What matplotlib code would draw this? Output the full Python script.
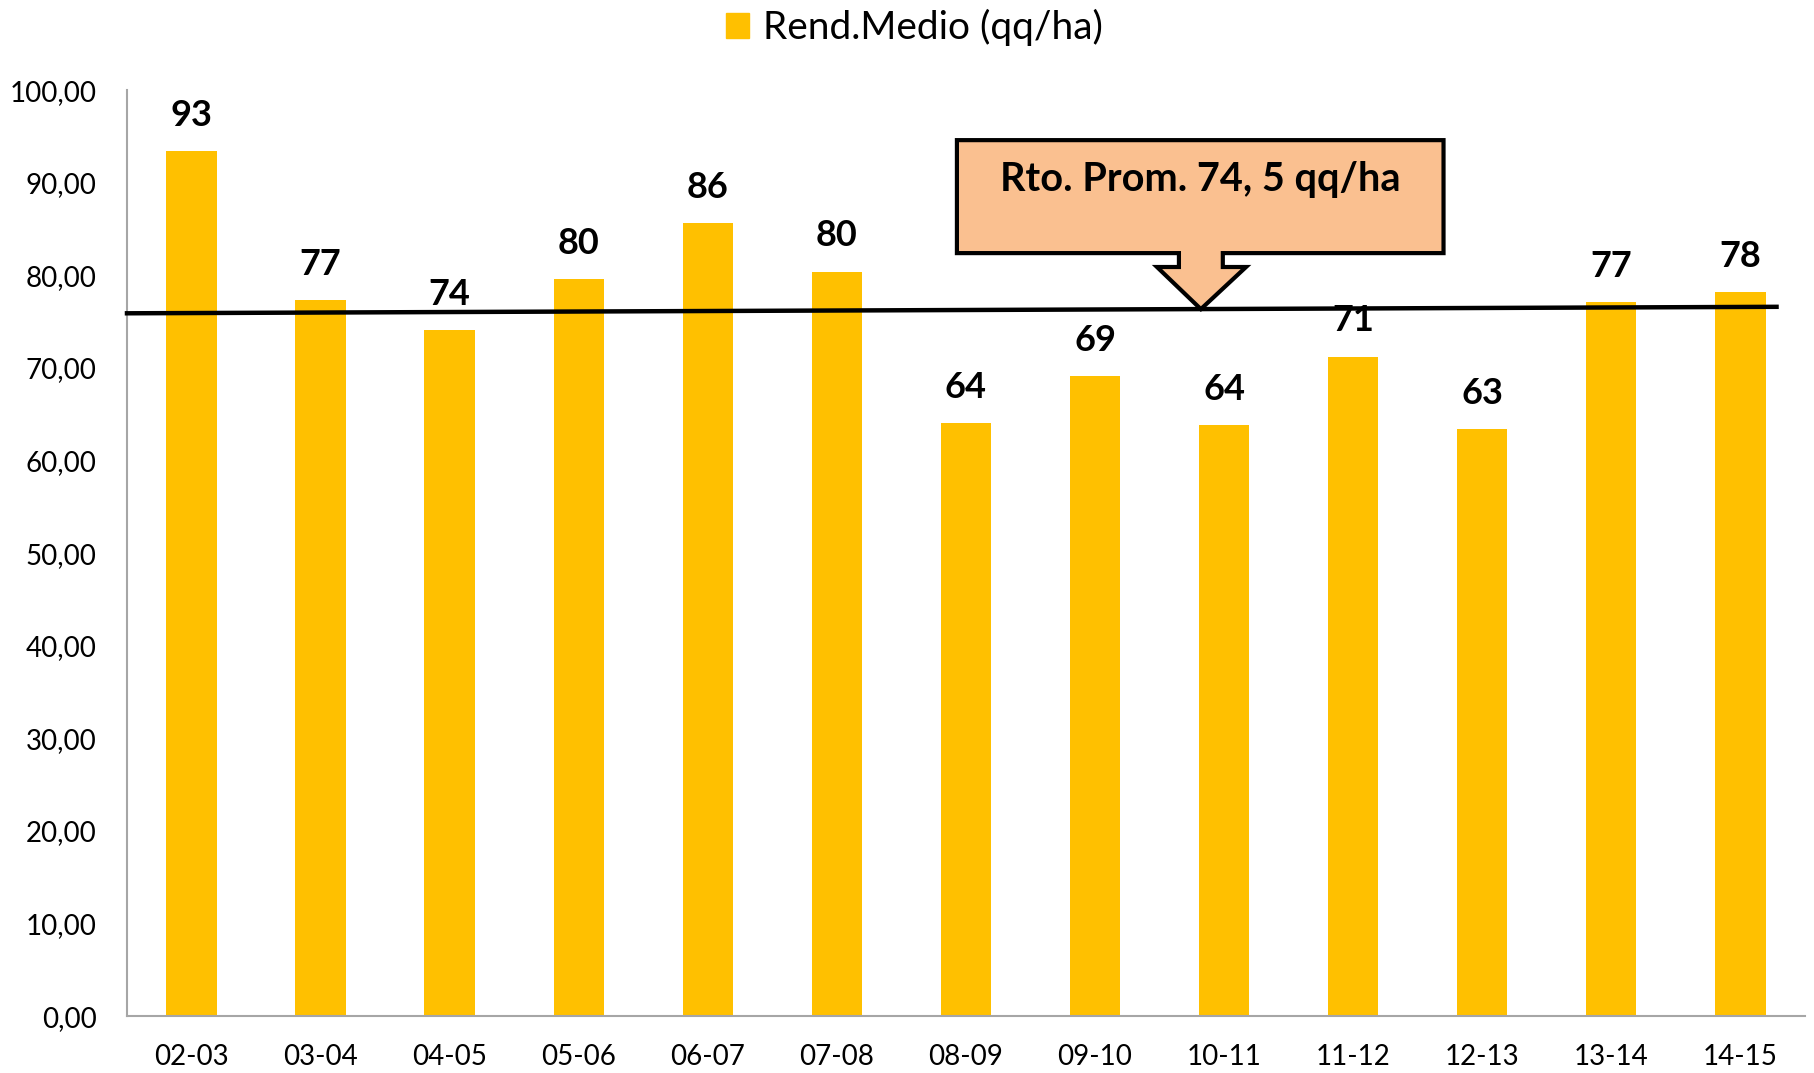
import matplotlib.pyplot as plt
from matplotlib.patches import Patch, Polygon
from matplotlib.ticker import FuncFormatter, MultipleLocator

plt.rcParams['font.family'] = ['Lato', 'DejaVu Sans']

# campaigns and average yield (qq/ha)
seasons = ['02-03', '03-04', '04-05', '05-06', '06-07', '07-08', '08-09',
           '09-10', '10-11', '11-12', '12-13', '13-14', '14-15']
yields = [93.4, 77.3, 74.1, 79.6, 85.6, 80.4, 64.0, 69.1, 63.8, 71.2, 63.4, 77.1, 78.2]

# hand-drawn average line (start / end)
avg_x = [-0.5, 12.28]
avg_y = [75.9, 76.6]
avg_text = 'Rto. Prom. 74, 5 qq/ha'

bar_color = '#FFC000'
callout_color = '#FAC090'

fig = plt.figure(figsize=(18.14, 10.73), dpi=100)
ax = fig.add_axes([0.070, 0.053, 0.925, 0.863])

x = range(len(seasons))
bars = ax.bar(x, yields, width=0.39, color=bar_color, zorder=2)

for xi, v in zip(x, yields):
    ax.annotate('%.0f' % v, (xi, v), xytext=(0, 14), textcoords='offset points',
                ha='center', va='bottom', fontsize=26, fontweight='bold', zorder=3)

ax.plot(avg_x, avg_y, color='black', lw=3.2, zorder=5, clip_on=False)

# callout box with arrow pointing to the average line
bl, br, bt, bb = 5.93, 9.70, 94.6, 82.4
sl, sr, sb = 7.65, 7.99, 80.9
wl, wr = 7.48, 8.17
tip = (7.82, 76.35)
pts = [(bl, bt), (br, bt), (br, bb), (sr, bb), (sr, sb), (wr, sb), tip,
       (wl, sb), (sl, sb), (sl, bb), (bl, bb)]
ax.add_patch(Polygon(pts, closed=True, facecolor=callout_color, edgecolor='black',
                     lw=3, joinstyle='miter', zorder=6))
ax.text((bl + br) / 2, 90.4, avg_text, ha='center', va='center',
        fontsize=28.5, fontweight='bold', zorder=7)

ax.set_xlim(-0.5, len(seasons) - 0.5)
ax.set_ylim(0, 100)
ax.set_xticks(list(x))
ax.set_xticklabels(seasons)
ax.yaxis.set_major_locator(MultipleLocator(10))
ax.yaxis.set_major_formatter(FuncFormatter(lambda v, p: ('%.2f' % v).replace('.', ',')))
ax.tick_params(axis='both', length=0, labelsize=20)
ax.tick_params(axis='x', pad=20)
ax.tick_params(axis='y', pad=22)

for s in ['top', 'right']:
    ax.spines[s].set_visible(False)
for s in ['left', 'bottom']:
    ax.spines[s].set_color('#a6a6a6')
    ax.spines[s].set_linewidth(1.5)

fig.legend(handles=[Patch(color=bar_color, label='Rend.Medio (qq/ha)')],
           loc='upper center', bbox_to_anchor=(0.504, 1.024), frameon=False,
           fontsize=28, handlelength=0.6, handleheight=0.6, handletextpad=0.35)

fig.savefig('out.png', dpi=100)
